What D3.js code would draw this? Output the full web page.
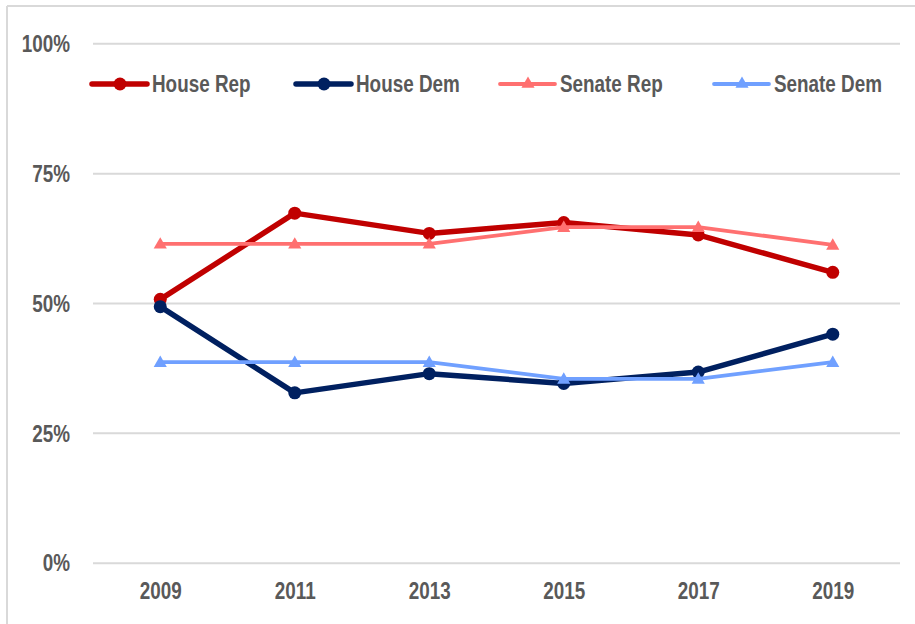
<!DOCTYPE html>
<html>
<head>
<meta charset="utf-8">
<script src="https://cdn.jsdelivr.net/npm/d3@7"></script>
<style>
  body { margin: 0; background: #fff; }
  svg text { font-family: "Liberation Sans", Arial, sans-serif; font-weight: bold; fill: #595959; }
</style>
</head>
<body>
<div id="chart"></div>
<script>
// data
var years = ["2009", "2011", "2013", "2015", "2017", "2019"];
var houseRep = [50.7, 67.3, 63.4, 65.5, 63.1, 55.9];
var houseDem = [49.3, 32.7, 36.4, 34.5, 36.7, 44.0];
var senateRep = [61.4, 61.4, 61.4, 64.6, 64.6, 61.2];
var senateDem = [38.6, 38.6, 38.6, 35.4, 35.4, 38.6];
var yTicks = [0, 25, 50, 75, 100];

var seriesNames = ["House Rep", "House Dem", "Senate Rep", "Senate Dem"];
var seriesValues = [houseRep, houseDem, senateRep, senateDem];
var colors = ["#C00000", "#002060", "#FF7070", "#70A0FF"];
var widths = [5.5, 5.5, 3.8, 3.8];
var shapes = ["circle", "circle", "triangle", "triangle"];

var width = 915, height = 624;
var plotLeft = 93, plotRight = 900, plotTop = 43.3, plotBottom = 562.7;

// squeeze text to look like the narrow face of the original
function narrow(sel) {
    sel.each(function () {
        var len = this.getComputedTextLength();
        d3.select(this).attr("textLength", len * 0.82).attr("lengthAdjust", "spacingAndGlyphs");
    });
}

var svg = d3.select("#chart").append("svg")
    .attr("width", width)
    .attr("height", height);

// frame (only top and left edges show)
svg.append("line").attr("x1", 7).attr("x2", width).attr("y1", 6).attr("y2", 6)
    .attr("stroke", "#D9D9D9").attr("stroke-width", 2);
svg.append("line").attr("x1", 7).attr("x2", 7).attr("y1", 6).attr("y2", height)
    .attr("stroke", "#D9D9D9").attr("stroke-width", 2);

var x = d3.scalePoint().domain(years).range([plotLeft, plotRight]).padding(0.5);
var y = d3.scaleLinear().domain([0, 100]).range([plotBottom, plotTop]);

// gridlines + y labels
var yAxis = svg.append("g")
    .attr("transform", "translate(" + plotLeft + ",0)")
    .call(d3.axisLeft(y).tickValues(yTicks).tickSize(-(plotRight - plotLeft)).tickFormat(function (d) { return d + "%"; }));
yAxis.select(".domain").remove();
yAxis.selectAll(".tick line").attr("stroke", "#D9D9D9").attr("stroke-width", 2);
yAxis.selectAll(".tick text").attr("x", -23).attr("dy", "0.36em").style("font-size", "23px").call(narrow);

// x labels
var xAxis = svg.append("g")
    .attr("transform", "translate(0," + plotBottom + ")")
    .call(d3.axisBottom(x).tickSize(0));
xAxis.select(".domain").remove();
xAxis.selectAll(".tick text").attr("y", 36).attr("dy", 0).style("font-size", "23px").call(narrow);

var line = d3.line()
    .x(function (d, i) { return x(years[i]); })
    .y(function (d) { return y(d); });

var tri = d3.symbol().type(d3.symbolTriangle).size(75);

seriesValues.forEach(function (vals, k) {
    var g = svg.append("g");
    g.append("path")
        .attr("d", line(vals))
        .attr("fill", "none")
        .attr("stroke", colors[k])
        .attr("stroke-width", widths[k])
        .attr("stroke-linejoin", "round");
    if (shapes[k] == "circle") {
        g.selectAll("circle").data(vals).enter().append("circle")
            .attr("cx", function (d, i) { return x(years[i]); })
            .attr("cy", function (d) { return y(d); })
            .attr("r", 6.5)
            .attr("fill", colors[k]);
    } else {
        g.selectAll("path.m").data(vals).enter().append("path")
            .attr("class", "m")
            .attr("d", tri)
            .attr("transform", function (d, i) { return "translate(" + x(years[i]) + "," + (y(d) + 1) + ")"; })
            .attr("fill", colors[k]);
    }
});

// legend
var legX = [92, 296, 500, 714];
var legY = 84;
seriesNames.forEach(function (name, k) {
    var lg = svg.append("g").attr("transform", "translate(" + legX[k] + "," + legY + ")");
    lg.append("line").attr("x1", 0).attr("x2", 55).attr("y1", 0).attr("y2", 0)
        .attr("stroke", colors[k]).attr("stroke-width", widths[k]).attr("stroke-linecap", "round");
    if (shapes[k] == "circle") {
        lg.append("circle").attr("cx", 28).attr("cy", 0).attr("r", 6.5).attr("fill", colors[k]);
    } else {
        lg.append("path").attr("d", tri).attr("transform", "translate(28,0)").attr("fill", colors[k]);
    }
    lg.append("text").attr("x", 60).attr("y", 0).attr("dy", "0.36em")
        .style("font-size", "23px").text(name).call(narrow);
});
</script>
</body>
</html>
